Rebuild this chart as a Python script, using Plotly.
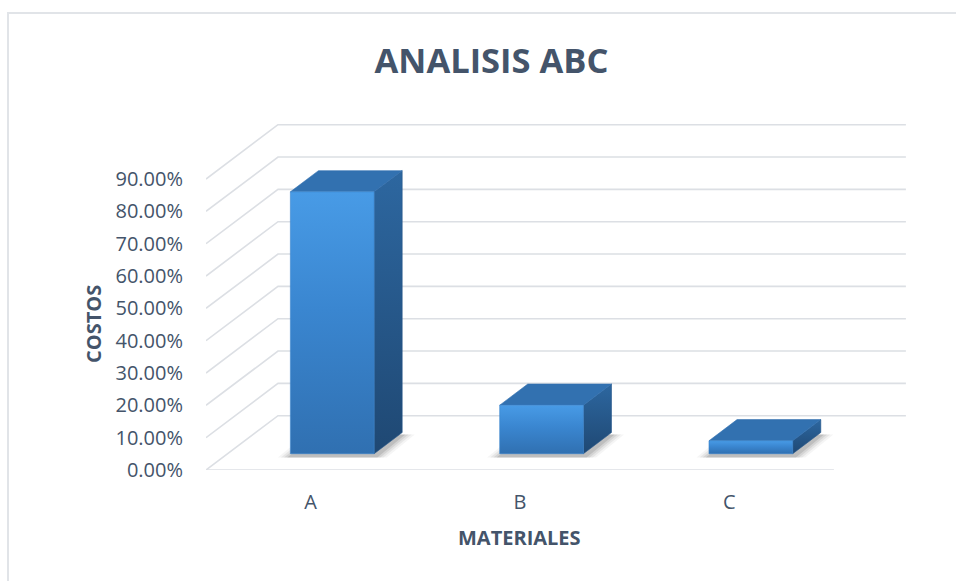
import plotly.graph_objects as go

# ABC analysis: share of total cost per material class
categories = ["A", "B", "C"]
cost_share = [0.81, 0.15, 0.04]
y_ticks = [0.0, 0.1, 0.2, 0.3, 0.4, 0.5, 0.6, 0.7, 0.8, 0.9]

# oblique 3-D look (depth vector expressed in axis units)
DEPTH_X = 0.344
DEPTH_Y = 0.168
BAR_W = 0.40
F_FRONT = 0.30   # depth fraction of the bar's front face
F_BACK = 0.69    # depth fraction of the bar's back face

GRID = "#dcdfe4"
TEXT = "#44546a"
FONT = "Open Sans"

fig = go.Figure()

# gridlines: side wall diagonal + back wall horizontal
x_lo, x_hi = -0.5, len(categories) - 0.5
for v in y_ticks:
    fig.add_trace(go.Scatter(
        x=[x_lo, x_lo + DEPTH_X, x_hi + DEPTH_X],
        y=[v, v + DEPTH_Y, v + DEPTH_Y],
        mode="lines", line=dict(color=GRID, width=1.6),
        hoverinfo="skip", showlegend=False))
# front floor edge
fig.add_trace(go.Scatter(
    x=[x_lo, x_hi], y=[0, 0], mode="lines",
    line=dict(color=GRID, width=1.6), hoverinfo="skip", showlegend=False))

bx = (F_BACK - F_FRONT) * DEPTH_X
by = (F_BACK - F_FRONT) * DEPTH_Y

for i, v in enumerate(cost_share):
    x0 = i - BAR_W / 2 + F_FRONT * DEPTH_X
    x1 = i + BAR_W / 2 + F_FRONT * DEPTH_X
    yb = F_FRONT * DEPTH_Y
    yt = v + yb

    # soft shadow on the floor around the footprint
    for grow, op in [(0.06, 0.05), (0.045, 0.08), (0.03, 0.10), (0.015, 0.14)]:
        fig.add_trace(go.Scatter(
            x=[x0 - grow, x1 + grow, x1 + bx + grow, x0 + bx - grow, x0 - grow],
            y=[yb - 0.012, yb - 0.012, yb + by - 0.006, yb + by - 0.006, yb - 0.012],
            fill="toself", mode="lines", line=dict(width=0),
            fillcolor=f"rgba(60,60,60,{op})", hoverinfo="skip", showlegend=False))

    # right side face
    fig.add_trace(go.Scatter(
        x=[x1, x1 + bx, x1 + bx, x1, x1],
        y=[yb, yb + by, yt + by, yt, yb],
        fill="toself", mode="lines", line=dict(width=0.6, color="#25568a"),
        fillgradient=dict(type="vertical",
                          colorscale=[[0, "#1f4873"], [1, "#2d67a0"]]),
        hoverinfo="skip", showlegend=False))
    # top face
    fig.add_trace(go.Scatter(
        x=[x0, x1, x1 + bx, x0 + bx, x0],
        y=[yt, yt, yt + by, yt + by, yt],
        fill="toself", mode="lines", line=dict(width=0.6, color="#3271b0"),
        fillcolor="#3271b0", hoverinfo="skip", showlegend=False))
    # front face
    fig.add_trace(go.Scatter(
        x=[x0, x1, x1, x0, x0],
        y=[yb, yb, yt, yt, yb],
        fill="toself", mode="lines", line=dict(width=0.6, color="#3a84cc"),
        fillgradient=dict(type="vertical",
                          colorscale=[[0, "#3070b1"], [0.55, "#3a86d0"], [1, "#489be6"]]),
        name=categories[i], hovertemplate=f"{categories[i]}: {v:.2%}<extra></extra>",
        showlegend=False))

W, H = 956, 581
L, R, T, B = 206, 50, 124, 111
plot_w = W - L - R
plot_h = H - T - B
px_per_x = 209.3

fig.update_layout(
    width=W, height=H,
    margin=dict(l=L, r=R, t=T, b=B),
    paper_bgcolor="white", plot_bgcolor="white",
    font=dict(family=FONT, color=TEXT),
    title=dict(text="<b>ANALISIS ABC</b>", x=491.5 / W, xref="container", xanchor="center",
               y=1 - 61 / H, yref="container", yanchor="middle",
               font=dict(size=34.5, color=TEXT, family=FONT)),
    xaxis=dict(range=[x_lo, x_lo + plot_w / px_per_x], tickvals=list(range(len(categories))),
               ticktext=categories, showgrid=False, zeroline=False, showline=False,
               ticks="", ticklabelstandoff=18, tickfont=dict(size=20, color=TEXT)),
    yaxis=dict(range=[0, plot_h / 323.3], tickvals=y_ticks, tickformat=".2%",
               showgrid=False, zeroline=False, showline=False,
               ticks="", ticklabelstandoff=22, tickfont=dict(size=20, color=TEXT)),
    showlegend=False,
)

# axis titles
fig.add_annotation(text="<b>MATERIALES</b>", x=1, xref="x", y=(470 - 537) / plot_h, yref="paper",
                   showarrow=False, xanchor="center", yanchor="middle",
                   font=dict(size=20, color=TEXT, family=FONT))
fig.add_annotation(text="<b>COSTOS</b>", x=(93 - L) / plot_w, xref="paper",
                   y=(470 - 324) / plot_h, yref="paper", textangle=-90,
                   showarrow=False, xanchor="center", yanchor="middle",
                   font=dict(size=20, color=TEXT, family=FONT))

# chart frame (top and left edges)
fx = (8 - L) / plot_w
fy = (470 - 13) / plot_h
fig.add_shape(type="path", xref="paper", yref="paper",
              path=f"M {fx} {(470 - H) / plot_h} L {fx} {fy} L {(W - L) / plot_w} {fy}",
              line=dict(color="#e1e4e8", width=2))

fig.write_html("out.html")
